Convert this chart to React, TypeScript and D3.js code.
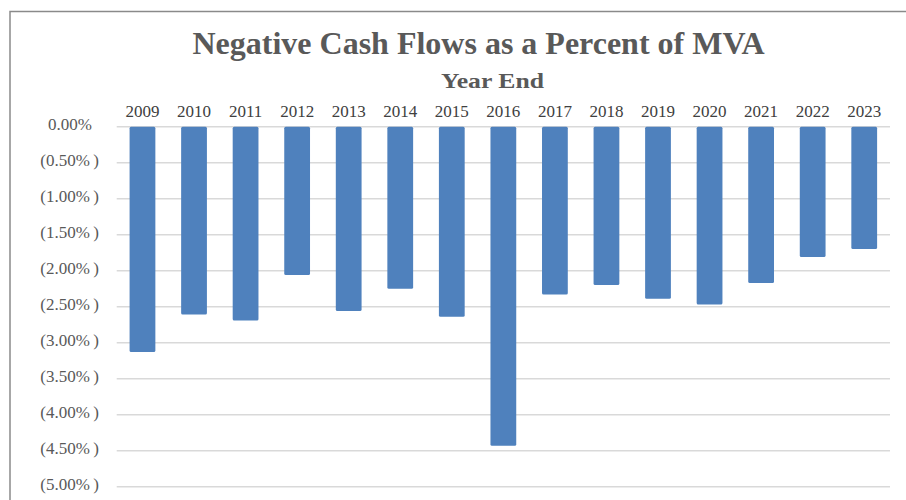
import React, { useRef, useEffect } from 'react';
import * as d3 from 'd3';

const years = ['2009', '2010', '2011', '2012', '2013', '2014', '2015', '2016', '2017', '2018', '2019', '2020', '2021', '2022', '2023'];
// negative cash flow as % of MVA
const cashFlowPct = [-3.13, -2.61, -2.69, -2.06, -2.56, -2.25, -2.64, -4.43, -2.33, -2.20, -2.39, -2.47, -2.17, -1.81, -1.70];
const yTicks = [0, -0.5, -1, -1.5, -2, -2.5, -3, -3.5, -4, -4.5, -5];

const chartTitle = 'Negative Cash Flows as a Percent of MVA';
const axisTitle = 'Year End';

const NegativeCashFlowChart = () => {
  const svgRef = useRef<SVGSVGElement>(null);

  useEffect(() => {
    const svg = d3.select(svgRef.current);
    svg.selectAll('*').remove();

    const width = 906;
    const height = 500;
    const plotLeft = 116.7;
    const plotRight = 890;
    const zeroY = 126.7;
    const bottomY = 486.7;
    const font = '"Liberation Serif", "Times New Roman", serif';

    svg.append('rect').attr('width', width).attr('height', height).attr('fill', '#ffffff');

    // chart frame (runs off the right / bottom edge)
    svg.append('rect')
      .attr('x', 10).attr('y', 11.5)
      .attr('width', 1000).attr('height', 1000)
      .attr('fill', 'none')
      .attr('stroke', '#8a8a8a')
      .attr('stroke-width', 1.5);

    const xScale = d3.scaleBand()
      .domain(years)
      .range([plotLeft, plotRight])
      .paddingInner(0.5)
      .paddingOuter(0.25);

    const yScale = d3.scaleLinear()
      .domain([-5, 0])
      .range([bottomY, zeroY]);

    // gridlines
    svg.append('g')
      .selectAll('line')
      .data(yTicks)
      .enter()
      .append('line')
      .attr('x1', plotLeft)
      .attr('x2', plotRight)
      .attr('y1', d => yScale(d))
      .attr('y2', d => yScale(d))
      .attr('stroke', '#d9d9d9')
      .attr('stroke-width', 1.5);

    // bars hang down from zero
    svg.append('g')
      .selectAll('rect')
      .data(cashFlowPct)
      .enter()
      .append('rect')
      .attr('x', (d, i) => xScale(years[i]))
      .attr('y', yScale(0))
      .attr('width', xScale.bandwidth())
      .attr('height', d => yScale(d) - yScale(0))
      .attr('rx', 1.5)
      .attr('fill', '#4f81bd');

    // y axis labels
    const fmt = (d: number) => d === 0 ? '0.00%' : `(${Math.abs(d).toFixed(2)}%\u2009)`;
    svg.append('g')
      .selectAll('text')
      .data(yTicks)
      .enter()
      .append('text')
      .attr('x', d => d === 0 ? 92 : 99)
      .attr('y', d => yScale(d) - 1)
      .attr('text-anchor', 'end')
      .attr('dominant-baseline', 'middle')
      .style('font-family', font)
      .style('font-size', '17px')
      .attr('fill', '#595959')
      .text(fmt);

    // year labels on top
    svg.append('g')
      .selectAll('text')
      .data(years)
      .enter()
      .append('text')
      .attr('x', d => xScale(d) + xScale.bandwidth() / 2)
      .attr('y', 117)
      .attr('text-anchor', 'middle')
      .style('font-family', font)
      .style('font-size', '17px')
      .attr('fill', '#404040')
      .text(d => d);

    svg.append('text')
      .attr('x', 478.5)
      .attr('y', 53.5)
      .attr('text-anchor', 'middle')
      .attr('textLength', 572)
      .attr('lengthAdjust', 'spacingAndGlyphs')
      .style('font-family', font)
      .style('font-size', '32px')
      .style('font-weight', 'bold')
      .attr('fill', '#595959')
      .text(chartTitle);

    svg.append('text')
      .attr('x', 492.5)
      .attr('y', 88)
      .attr('text-anchor', 'middle')
      .attr('textLength', 103)
      .attr('lengthAdjust', 'spacingAndGlyphs')
      .style('font-family', font)
      .style('font-size', '22px')
      .style('font-weight', 'bold')
      .attr('fill', '#595959')
      .text(axisTitle);
  }, []);

  return (
    <svg ref={svgRef} width={906} height={500} style={{ position: 'absolute', left: 0, top: 0, display: 'block' }} />
  );
};

export default function App() {
  return <NegativeCashFlowChart />;
}
